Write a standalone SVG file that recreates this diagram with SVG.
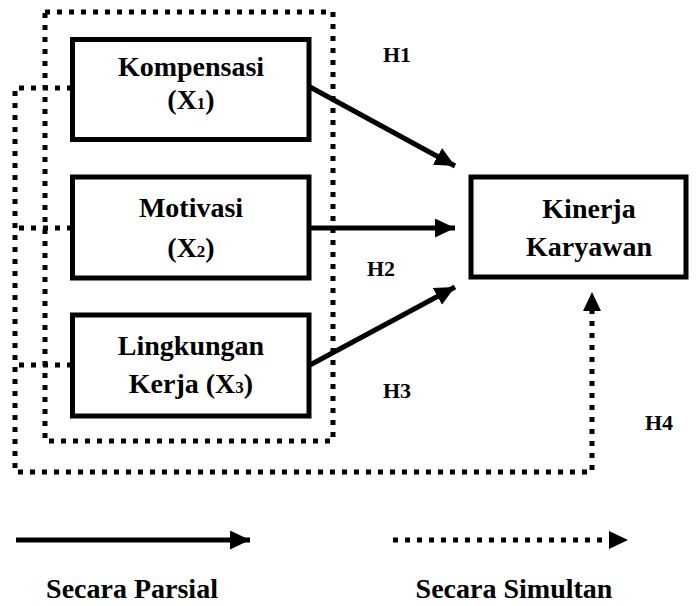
<svg xmlns="http://www.w3.org/2000/svg" width="698" height="606" viewBox="0 0 698 606">
<style>
.box{fill:#fff;stroke:#000;stroke-width:5}
.t{font-family:"Liberation Serif","Times New Roman",serif;font-weight:bold;font-size:28px;fill:#000;text-anchor:middle}
.h{font-family:"Liberation Serif","Times New Roman",serif;font-weight:bold;font-size:22px;fill:#000}
.lg{font-family:"Liberation Serif","Times New Roman",serif;font-weight:bold;font-size:28px;fill:#000;text-anchor:middle}
.solid{fill:none;stroke:#000;stroke-width:5}
.dot{fill:none;stroke:#000;stroke-width:5;stroke-dasharray:5 7}
</style>
<defs>
<marker id="ah" markerUnits="userSpaceOnUse" markerWidth="22" markerHeight="20" refX="20" refY="9.5" orient="auto">
<path d="M0,0 L20,9.5 L0,19 Z" fill="#000"/>
</marker>
</defs>
<g id="connectors">
<rect class="dot" x="45" y="12" width="288" height="429"/>
<path class="dot" d="M72,88 H15 V472 H592 V310"/>
<path class="dot" d="M72,228 H15"/>
<path class="dot" d="M72,365 H15"/>
<path d="M583,311 L592,292 L601,311 Z" fill="#000"/>
<line class="solid" x1="310" y1="87" x2="455" y2="166" marker-end="url(#ah)"/>
<line class="solid" x1="310" y1="228" x2="455" y2="228" marker-end="url(#ah)"/>
<line class="solid" x1="310" y1="365" x2="455" y2="287" marker-end="url(#ah)"/>
</g>
<g id="kompensasi">
<rect class="box" x="72.5" y="39.5" width="236.5" height="100"/>
<text class="t" x="191" y="76">Kompensasi</text>
<text class="t" x="191" y="109">(X<tspan font-size="17">1</tspan>)</text>
</g>
<g id="motivasi">
<rect class="box" x="72.5" y="177" width="236.5" height="101"/>
<text class="t" x="191" y="217">Motivasi</text>
<text class="t" x="191" y="257">(X<tspan font-size="17">2</tspan>)</text>
</g>
<g id="lingkungan">
<rect class="box" x="72.5" y="315" width="236.5" height="101"/>
<text class="t" x="191" y="355">Lingkungan</text>
<text class="t" x="191" y="393">Kerja (X<tspan font-size="17">3</tspan>)</text>
</g>
<g id="kinerja">
<rect class="box" x="471" y="177" width="215" height="100"/>
<text class="t" x="589" y="218">Kinerja</text>
<text class="t" x="589" y="256">Karyawan</text>
</g>
<g id="labels">
<text class="h" x="383" y="62">H1</text>
<text class="h" x="367" y="276">H2</text>
<text class="h" x="383" y="398">H3</text>
<text class="h" x="645" y="430">H4</text>
</g>
<g id="legend">
<line class="solid" x1="16" y1="540" x2="250" y2="540" marker-end="url(#ah)"/>
<path class="dot" d="M393,540 H611"/>
<path d="M609,531 L628,540 L609,549 Z" fill="#000"/>
<text class="lg" x="132" y="598">Secara Parsial</text>
<text class="lg" x="514" y="598">Secara Simultan</text>
</g>
</svg>
